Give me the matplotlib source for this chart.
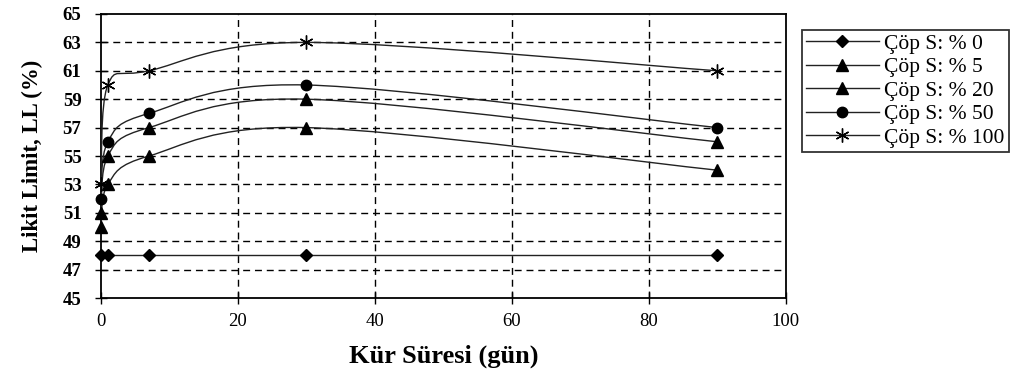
import numpy as np
import matplotlib
matplotlib.use("Agg")
import matplotlib.pyplot as plt
from matplotlib.path import Path

# Curing time (days) and liquid limit values for each waste ratio
days = [0, 1, 7, 30, 90]
series_labels = ["Çöp S: % 0", "Çöp S: % 5", "Çöp S: % 20", "Çöp S: % 50", "Çöp S: % 100"]
ll_0 = [48, 48, 48, 48, 48]
ll_5 = [50, 53, 55, 57, 54]
ll_20 = [51, 55, 57, 59, 56]
ll_50 = [52, 56, 58, 60, 57]
ll_100 = [53, 60, 61, 63, 61]
series_values = [ll_0, ll_5, ll_20, ll_50, ll_100]
markers = ["D", "^", "^", "o", (6, 2, 0)]
marker_sizes = [6.5, 8.5, 8.5, 7.5, 10]

x_ticks = [0, 20, 40, 60, 80, 100]
y_ticks = list(range(45, 66, 2))

plt.rcParams["font.family"] = ["Liberation Serif", "DejaVu Serif"]

fig = plt.figure(figsize=(10.26, 3.76), dpi=100)
ax = fig.add_axes([0.0984, 0.2074, 0.6676, 0.7554])
ax.set_xlim(0, 100)
ax.set_ylim(45, 65)


def smooth_path(xs, ys):
    """Bezier smoothing in screen space (cardinal spline, tension 1/6)."""
    pts = ax.transData.transform(np.column_stack([xs, ys]))
    n = len(pts)
    verts = [pts[0]]
    codes = [Path.MOVETO]
    for i in range(n - 1):
        p0 = pts[i - 1] if i > 0 else pts[i]
        p1 = pts[i]
        p2 = pts[i + 1]
        p3 = pts[i + 2] if i + 2 < n else pts[i + 1]
        c1 = p1 + (p2 - p0) / 6.0
        c2 = p2 - (p3 - p1) / 6.0
        verts += [c1, c2, p2]
        codes += [Path.CURVE4] * 3
    path = Path(np.array(verts), codes)
    poly = path.to_polygons(closed_only=False)[0]
    return ax.transData.inverted().transform(poly)


for vals, lab, mk, ms in zip(series_values, series_labels, markers, marker_sizes):
    curve = smooth_path(np.array(days, float), np.array(vals, float))
    ax.plot(curve[:, 0], curve[:, 1], color="#222222", lw=1.0, zorder=3)
    ax.plot(days, vals, linestyle="none", marker=mk, color="black",
            markersize=ms, markeredgewidth=1.0, zorder=4, clip_on=False)
    # legend proxy
    ax.plot([], [], color="#222222", lw=1.0, marker=mk, markersize=ms,
            markerfacecolor="black", markeredgecolor="black", label=lab)

ax.set_xticks(x_ticks)
ax.set_yticks(y_ticks)
for yv in range(47, 64, 2):
    ax.axhline(yv, color="black", lw=1.0, ls=(0, (5, 3.5)), zorder=1)
for xv in x_ticks[1:-1]:
    ax.axvline(xv, color="black", lw=1.0, ls=(0, (5, 3.5)), zorder=1)

ax.tick_params(axis="both", direction="inout", length=8, width=1.0, colors="black")
ax.tick_params(axis="x", labelsize=13.5, pad=7)
ax.tick_params(axis="y", labelsize=13.5, pad=10)
for t in ax.get_yticklabels():
    t.set_fontweight("bold")
for s in ax.spines.values():
    s.set_linewidth(1.3)
    s.set_color("black")

ax.set_ylabel("Likit Limit, LL (%)", fontsize=16.5, fontweight="bold", labelpad=14)
ax.set_xlabel("Kür Süresi (gün)", fontsize=19, fontweight="bold", labelpad=10)

leg = fig.legend(loc="upper left", bbox_to_anchor=(802 / 1026, 1 - 30 / 376),
                 fontsize=15.5, frameon=True, fancybox=False, edgecolor="black",
                 handlelength=3.4, handletextpad=0.25, labelspacing=0.16,
                 borderpad=0.18, borderaxespad=0)
leg.get_frame().set_linewidth(1.3)

fig.savefig("out.png", dpi=100, facecolor="white")
